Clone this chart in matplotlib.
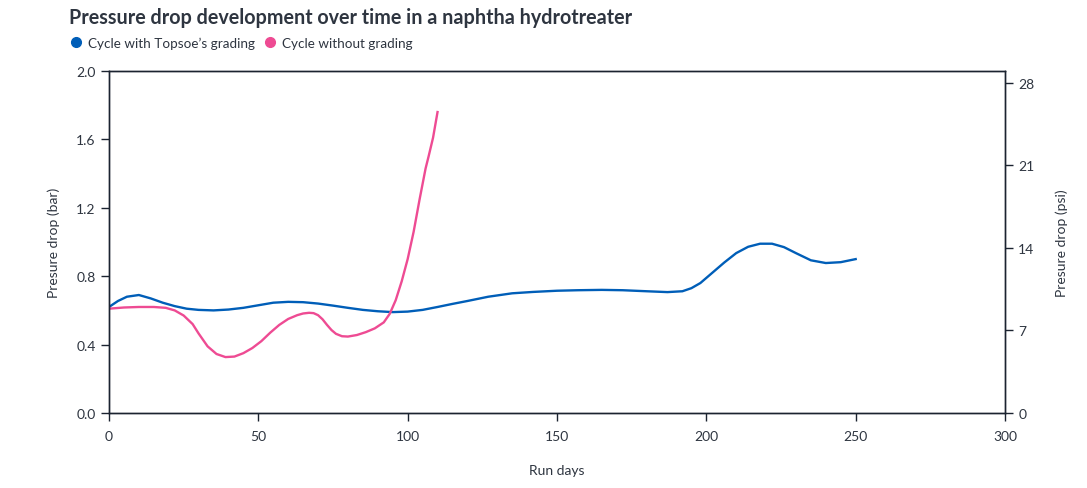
import matplotlib.pyplot as plt
from matplotlib.lines import Line2D

plt.rcParams['font.family'] = ['Lato', 'DejaVu Sans']

# (run days, bar)
graded_days = [0, 3, 6, 10, 14, 18, 22, 26, 30, 35, 40, 45, 50, 55, 60, 65, 70, 75, 80, 85, 90, 95,
               100, 105, 110, 115, 120, 127, 135, 142, 150, 157, 165, 172, 180, 187, 192, 195,
               198, 202, 206, 210, 214, 218, 222, 226, 230, 235, 240, 245, 250]
graded_bar = [0.62, 0.655, 0.68, 0.69, 0.67, 0.645, 0.625, 0.61, 0.603, 0.60, 0.605, 0.615, 0.63,
              0.645, 0.65, 0.648, 0.64, 0.628, 0.615, 0.603, 0.595, 0.59, 0.593, 0.603, 0.62,
              0.638, 0.655, 0.68, 0.70, 0.708, 0.715, 0.718, 0.72, 0.718, 0.712, 0.707, 0.712,
              0.73, 0.76, 0.82, 0.88, 0.935, 0.972, 0.99, 0.99, 0.97, 0.935, 0.893, 0.877, 0.882, 0.90]

ungraded_days = [0, 5, 10, 15, 19, 22, 25, 28, 30, 33, 36, 39, 42, 45, 48, 51, 54, 57, 60, 63, 65,
                 67, 68.5, 70, 71.5, 73, 74.5, 76, 78, 80, 83, 86, 89, 92, 94, 96, 98, 100, 102, 104,
                 106, 107, 108.5, 110]
ungraded_bar = [0.61, 0.617, 0.62, 0.62, 0.615, 0.60, 0.57, 0.52, 0.465, 0.39, 0.345, 0.327, 0.33,
                0.35, 0.38, 0.42, 0.47, 0.515, 0.55, 0.572, 0.582, 0.586, 0.584, 0.572, 0.548,
                0.515, 0.485, 0.463, 0.449, 0.447, 0.456, 0.473, 0.495, 0.53, 0.58, 0.66, 0.77,
                0.90, 1.06, 1.25, 1.43, 1.50, 1.61, 1.76]

x_ticks = [0, 50, 100, 150, 200, 250, 300]
bar_ticks = [0.0, 0.4, 0.8, 1.2, 1.6, 2.0]
psi_ticks = [0, 7, 14, 21, 28]
PSI_PER_BAR = 14.5038

blue = '#005EB8'
pink = '#EE4B93'
txt = '#2E3540'
spine = '#1B2330'

fig = plt.figure(figsize=(10.87, 4.89), dpi=100)
ax = fig.add_axes([109 / 1087, 1 - 414 / 489, (1005 - 109) / 1087, (414 - 72) / 489])

ax.plot(graded_days, graded_bar, color=blue, lw=1.7)
ax.plot(ungraded_days, ungraded_bar, color=pink, lw=1.7)

ax.set_xlim(0, 300)
ax.set_ylim(0, 2.0)
ax.set_xticks(x_ticks)
ax.set_yticks(bar_ticks)
ax.set_yticklabels([f'{v:.1f}' for v in bar_ticks])

ax2 = ax.twinx()
ax2.set_ylim(0, 2.0 * PSI_PER_BAR)
ax2.set_yticks(psi_ticks)

for a in (ax, ax2):
    for s in a.spines.values():
        s.set_color(spine)
        s.set_linewidth(1)
    a.tick_params(colors=spine, labelcolor=txt, labelsize=10, length=6, width=1)
ax.tick_params(axis='x', pad=6)

ax.set_xlabel('Run days', fontsize=10, color=txt, labelpad=16)
ax.set_ylabel('Presure drop (bar)', fontsize=10, color=txt, labelpad=12)
ax2.set_ylabel('Presure drop (psi)', fontsize=10, color=txt, labelpad=15)

fig.text(69 / 1087, 1 - 18 / 489, 'Pressure drop development over time in a naphtha hydrotreater',
         fontsize=14.2, fontweight='bold', color=txt, va='center', ha='left')

handles = [Line2D([], [], ls='none', marker='o', ms=7, color=blue),
           Line2D([], [], ls='none', marker='o', ms=7, color=pink)]
fig.legend(handles, ["Cycle with Topsoe\u2019s grading", 'Cycle without grading'],
           loc='center left', bbox_to_anchor=(57 / 1087, 1 - 44 / 489), ncol=2, frameon=False,
           fontsize=9.7, handletextpad=-0.1, columnspacing=0.1, borderaxespad=0, labelcolor=txt)

fig.savefig('out.png', dpi=100)
